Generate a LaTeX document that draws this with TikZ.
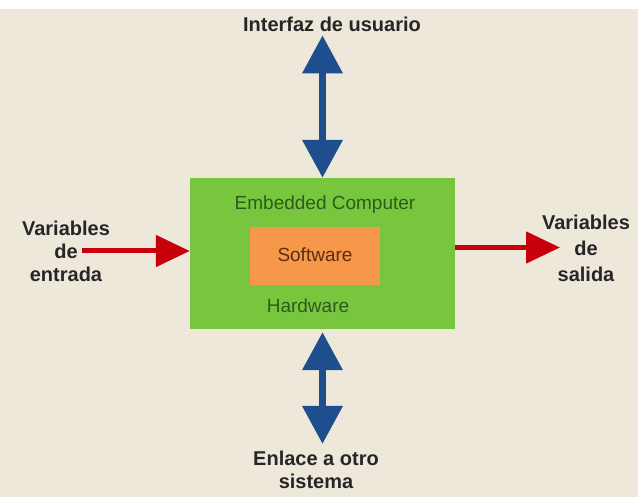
\documentclass[tikz,border=0pt]{standalone}
\usepackage{fontspec}
\setmainfont{Liberation Sans}
\usepackage{tikz}
\usetikzlibrary{positioning}
\usetikzlibrary{arrows.meta}
\definecolor{fondo}{HTML}{EEE8DB}
\definecolor{verdecaja}{HTML}{77C63E}
\definecolor{verdetexto}{HTML}{2E5A1C}
\definecolor{naranja}{HTML}{F7974A}
\definecolor{marron}{HTML}{5A2C12}
\definecolor{azul}{HTML}{1F4E8E}
\definecolor{rojo}{HTML}{C8000C}

\begin{document}
\begin{tikzpicture}[x=1pt, y=-1pt]
		\tikzstyle{etiqueta}=[font=\fontsize{20}{23}\selectfont\bfseries, text=black!85, align=center, inner sep=0pt]
		\tikzstyle{textocaja}=[font=\fontsize{19}{21}\selectfont, text=verdetexto, inner sep=0pt, anchor=base]
		\tikzset{flechaazul/.style={azul, line width=7pt, {Triangle[width=39pt, length=38pt]}-{Triangle[width=39pt, length=38pt]}}}
		\tikzset{flecharoja/.style={rojo, line width=5pt, -{Triangle[width=31pt, length=34pt]}}}

		\fill[fondo] (0,0) rectangle (638,497);
		\fill[white] (0,0) rectangle (638,9);
		\useasboundingbox (0,0) rectangle (638,497);

		\node[fill=verdecaja, minimum width=265pt, minimum height=151pt, inner sep=0pt] (box) at (322.5,253.5) {};
		\node[fill=naranja, minimum width=130pt, minimum height=58pt, inner sep=0pt] (sw) at (315,256) {};
		\node[textocaja] (embedded) at (325,210) {Embedded Computer};
		\node[textocaja, text=marron, font=\fontsize{19}{21}\selectfont] (software) at (315,262) {Software};
		\node[textocaja] (hardware) at (308,313) {Hardware};

		\node[etiqueta, anchor=base] (interfaz) at (332,32) {Interfaz de usuario};
		\node[etiqueta] (enlace) at (316,470) {Enlace a otro\\sistema};
		\node[etiqueta] (entrada) at (66,251) {Variables\\de\\entrada};
		\node[etiqueta, font=\fontsize{20}{26}\selectfont\bfseries] (salida) at (586,248) {Variables\\de\\salida};

		\coordinate (inL) at (82,251);
		\coordinate (outR) at (560,247.5);

		% flechas
		\draw[flechaazul, shorten <=3pt] (interfaz.south -| box.north) -- (box.north);
		\draw[flechaazul, shorten <=3pt, shorten >=7pt] (box.south) -- (enlace.north -| box.south);
		\draw[flecharoja] (inL) -- (box.west |- inL);
		\draw[flecharoja] (box.east |- outR) -- (outR);
\end{tikzpicture}
\end{document}
